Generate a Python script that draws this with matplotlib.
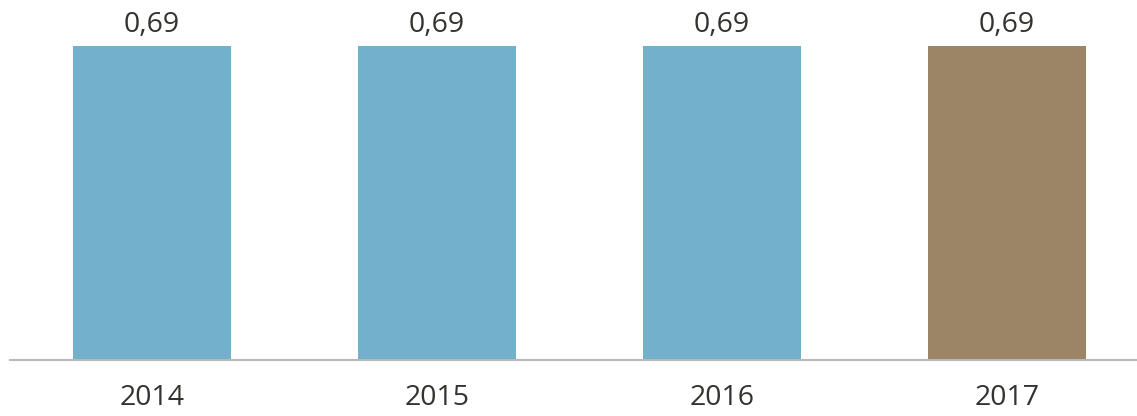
import matplotlib.pyplot as plt

years = ["2014", "2015", "2016", "2017"]
values = [0.69, 0.69, 0.69, 0.69]
labels = ["0,69", "0,69", "0,69", "0,69"]
colors = ["#72b0cc", "#72b0cc", "#72b0cc", "#9c8567"]

plt.rcParams['font.family'] = ['Open Sans', 'DejaVu Sans']

fig = plt.figure(figsize=(11.37, 4.16), dpi=100)
ax = fig.add_axes([10 / 1137, 1 - 360 / 416, 1 - 10 / 1137, 360 / 416])

x = range(len(years))
bars = ax.bar(x, values, width=0.555, color=colors)

for b, lab in zip(bars, labels):
    ax.annotate(lab, (b.get_x() + b.get_width() / 2, b.get_height()),
                xytext=(0, 5), textcoords="offset points",
                ha="center", va="bottom", fontsize=20.5, color="#333330")

ax.set_xlim(-0.498, 3.456)
ax.set_ylim(0, 0.791)
ax.set_xticks(list(x))
ax.set_xticklabels(years, fontsize=20.5, color="#333330")
ax.tick_params(axis="x", length=0, pad=17)
ax.set_yticks([])
for s in ["top", "right", "left"]:
    ax.spines[s].set_visible(False)
ax.spines["bottom"].set_color("#b8b8b8")
ax.spines["bottom"].set_linewidth(1.5)

fig.savefig("out.png", dpi=100)
